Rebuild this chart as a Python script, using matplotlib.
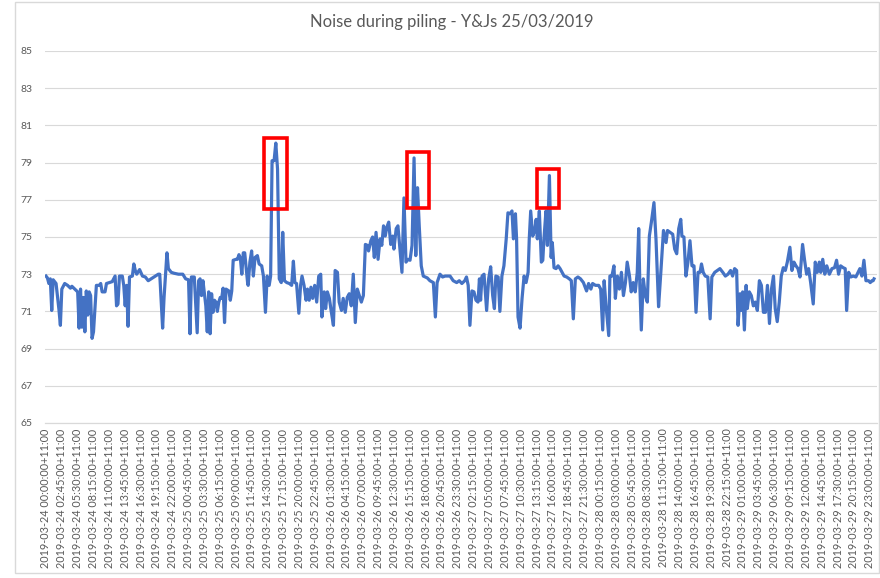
import matplotlib
matplotlib.use("Agg")
import matplotlib.pyplot as plt
from matplotlib.patches import Rectangle

title = "Noise during piling - Y&Js 25/03/2019"

# hours since 2019-03-24 00:00 (+11:00)
hours = [
    0, 0.25, 0.5, 0.75, 1.0, 1.25, 1.5, 1.75, 2.25, 2.5, 2.75, 3.25, 3.75, 4.25, 4.5, 5.0, 5.5, 5.75,
    6.0, 6.25, 6.5, 6.75, 7.0, 7.25, 7.5, 7.75, 8.0, 8.25, 8.75, 9.25, 9.5, 9.75, 10.25, 10.5, 11.0,
    11.5, 12.0, 12.25, 12.5, 12.75, 13.25, 13.5, 13.75, 14.0, 14.25, 14.5, 15.0, 15.25, 15.5, 15.75,
    16.25, 16.75, 17.25, 17.75, 18.25, 18.75, 19.5, 19.75, 20.25, 20.5, 21.0, 21.25, 21.75, 22.25,
    23.0, 23.75, 24.25, 24.75, 25.0, 25.25, 25.75, 26.25, 26.5, 26.75, 27.0, 27.25, 27.75, 28.0,
    28.25, 28.5, 28.75, 29.0, 29.25, 29.5, 29.75, 30.0, 30.25, 30.5, 30.75, 31.0, 31.25, 31.75, 32.0,
    32.25, 32.5, 33.0, 33.25, 33.5, 33.75, 34.0, 34.25, 34.5, 35.0,
    35.1, 35.4, 35.7, 36.0, 36.3, 36.7, 37.0, 37.45, 37.75, 38.1, 38.4, 38.75, 39.0, 39.25, 39.6,
    39.9, 40.2, 40.5, 40.85, 41.1, 41.4, 41.8, 42.25, 42.65, 42.95, 43.2, 43.5, 43.9, 44.2, 44.45,
    44.8, 45.15, 45.4, 45.7, 46.0, 46.3, 46.65, 47.0, 47.35, 47.7, 47.9, 48.3, 48.55, 48.85, 49.2,
    49.5, 49.9, 50.2, 50.6, 50.9, 51.3, 51.6, 51.95, 52.3, 52.65, 53.0, 53.35, 53.7, 54.05, 54.4,
    54.75, 55.1, 55.45, 55.8, 56.0, 56.4, 56.7, 57.0, 57.3, 57.65, 58.0, 58.3, 58.6, 58.9, 59.15,
    59.5, 59.85, 60.2, 60.4, 60.8, 61.1, 61.45, 61.8, 62.15, 62.5, 62.85, 63.2, 63.55, 63.9, 64.2,
    64.5, 64.8, 65.15, 65.5, 65.85, 66.2, 66.65, 67.25, 67.6, 67.9, 68.4, 68.85, 69.3, 69.85,
    70.15, 70.7, 71.3, 71.75, 72.2, 72.7, 73.0, 73.3, 73.6, 73.95, 74.3, 74.65, 75.0, 75.25, 75.45,
    75.7, 76.05, 76.5, 76.85, 77.2, 77.55, 77.85, 78.1, 78.5, 78.8, 79.15, 79.5, 79.9, 80.2, 80.55,
    80.9, 81.15, 81.5, 81.7, 81.95, 82.3, 82.65, 83.0, 83.35, 83.7, 83.9, 84.15, 84.5, 84.85, 85.1,
    85.3, 85.65, 86.0, 86.25, 86.45, 86.8, 87.05, 87.4, 87.7, 87.9, 88.2, 88.55, 88.9, 89.25, 89.6,
    89.95, 90.4, 90.85, 91.2, 91.55, 91.9, 92.35, 92.8, 93.3, 93.85, 94.2, 94.6, 94.9, 95.4, 95.95,
    96.3, 96.65, 96.9, 97.2, 97.7, 97.9, 98.25, 98.6, 98.85, 99.2, 99.55, 99.9, 100.25, 100.6,
    100.9, 101.3, 101.6, 101.95, 102.3, 102.65, 102.9, 103.1, 103.35, 103.7, 104.05, 104.4, 104.75,
    105.1, 105.55, 105.9, 106.35, 106.7,
    107.2, 107.65, 107.9, 108.35, 108.8, 109.15, 109.5, 109.85, 110.2, 110.4, 110.75, 111.1,
    111.45, 111.8, 112.15, 112.5, 112.85, 113.2, 113.55, 113.8, 114.1, 114.45, 114.9, 115.3, 115.6,
    116.1, 116.55, 117.0, 117.5, 117.95, 118.4, 118.85, 119.2, 119.55, 119.9, 120.15, 120.5, 120.7,
    120.95, 121.25, 121.55, 121.75, 122.1, 122.45, 122.8, 123.15, 123.5, 123.85, 124.2, 124.55,
    124.9, 125.25, 125.6, 125.95, 126.3, 126.6, 126.95, 127.3, 127.65, 128.0, 128.35, 128.7, 129.15,
    129.5, 129.85, 130.2, 130.55, 130.9, 131.35, 131.7, 132.05, 132.4, 132.75, 133.2, 133.55, 133.9,
    134.25, 134.5, 134.85, 135.2, 135.55, 136.0, 136.45, 136.9, 137.25, 137.6, 137.95, 138.4,
    138.75, 139.0, 139.35, 139.7, 140.15, 140.6, 141.0, 141.3, 141.65, 142.0, 142.35, 142.8, 143.1,
    143.4, 143.6, 143.75,
]

noise_db = [
    72.9, 72.8, 72.5, 72.75, 71.05, 72.7, 72.6, 72.5, 71.1, 70.25, 72.2, 72.5, 72.4, 72.25, 72.35, 72.2, 72.05, 70.1,
    72.2, 70.15, 71.75, 69.9, 72.1, 70.8, 72.05, 71.85, 69.55, 69.9, 72.4, 72.4, 72.5, 72.05, 72.05, 72.5, 72.55,
    72.6, 72.9, 71.3, 71.4, 72.9, 72.9, 72.4, 71.3, 72.4, 70.2, 72.85, 72.9, 73.55, 73.2, 73.0,
    73.25, 72.9, 72.85, 72.65, 72.75, 72.85, 73.0, 73.0, 70.1, 71.75, 74.15, 73.3, 73.1, 73.05,
    73.0, 73.0, 72.75, 72.7, 69.8, 72.85, 72.85, 69.85, 72.65, 72.75, 71.85, 72.65, 71.3, 69.9,
    72.05, 69.8, 71.95, 70.95, 71.6, 71.5, 71.0, 71.5, 71.75, 71.7, 72.25, 70.4, 72.2, 72.1, 71.6,
    72.1, 73.75, 73.8, 73.8, 74.05, 73.85, 73.0, 74.15, 74.15, 72.55,
    72.4, 73.65, 74.25, 72.9, 73.9, 74.0, 73.55, 73.45, 72.9, 70.95, 72.9, 72.4, 72.9, 79.1, 79.1,
    80.05, 78.65, 72.75, 72.55, 75.25, 72.65, 72.55, 72.5, 72.4, 73.7, 72.55, 72.5, 70.9, 72.4, 72.9,
    72.4, 71.6, 72.2, 71.6, 72.3, 71.7, 72.4, 71.5, 72.9, 73.0, 70.7, 72.05, 71.15, 72.05, 71.7,
    71.05, 70.25, 73.2, 73.1, 71.5, 71.05, 71.7, 70.95, 71.75, 71.95, 71.3, 73.0, 70.4, 72.2, 71.85,
    71.5, 71.85, 74.6, 74.55, 74.25, 74.8, 75.0, 73.9, 75.25, 73.8, 74.9, 74.55, 75.6, 75.05, 75.5,
    75.8, 74.6, 75.05, 74.35, 75.45, 75.6, 74.35, 73.1, 77.1, 73.65, 73.8, 73.75, 74.55, 79.25, 74.0,
    77.65, 75.6, 73.45, 72.9, 72.85, 72.8, 72.65, 72.55, 70.7, 72.55, 73.0, 72.85, 72.9, 72.9,
    72.9, 72.65, 72.55, 72.65, 72.5, 72.65, 72.85, 72.4, 70.25, 72.1, 72.05, 71.6, 71.5, 72.75, 71.6,
    72.9, 73.0, 71.05, 72.75, 73.4, 71.85, 71.15, 72.9, 72.85, 71.0, 72.9, 73.45, 74.9, 76.3, 76.25,
    76.4, 74.9, 76.25, 74.9, 70.7, 70.1, 71.7, 72.9, 72.55, 73.1, 74.9, 76.4, 75.05, 75.35, 75.95,
    74.9, 76.4, 73.65, 73.75, 74.9, 76.4, 74.55, 78.3, 73.9, 74.7, 73.35, 73.3, 73.45, 73.3, 73.1,
    72.9, 72.85, 72.75, 72.65, 70.6, 72.75, 72.85, 72.75, 72.55, 72.1, 72.5, 72.2, 72.5, 72.4, 72.4,
    72.2, 70.0, 72.65, 71.4, 69.7, 72.9, 72.9, 73.45, 71.7, 72.9, 72.2, 73.1, 71.85, 72.55,
    73.65, 72.9, 72.05, 72.55, 72.05, 73.1, 75.45, 72.4, 70.0, 72.75, 71.85, 71.5, 75.05,
    75.8, 76.85, 74.9, 71.25, 72.9,
    75.35, 74.7, 75.35, 75.25, 75.15, 74.35, 74.1, 75.45, 75.95, 75.05, 75.0, 72.9,
    73.65, 74.8, 73.45, 73.45, 70.95, 73.1, 73.1, 73.55, 73.1, 72.9, 72.85, 70.6, 72.85,
    73.1, 73.2, 73.3, 73.1, 72.9, 73.0, 73.2, 72.9, 73.3, 73.2, 70.25, 71.95, 71.05,
    72.05, 70.0, 72.4, 71.15, 72.05, 71.85, 71.3, 71.5, 71.05, 72.65, 72.4, 70.95,
    70.95, 72.4, 70.35, 72.2, 72.9, 71.15, 70.45, 71.5, 72.9, 73.35, 73.2, 73.65, 74.45,
    73.2, 73.65, 73.45, 73.3, 72.85, 74.6, 73.75, 73.0, 73.3, 72.55, 71.4, 73.65, 73.1,
    73.65, 73.1, 73.8, 73.0, 73.45, 73.0, 73.3, 73.35, 73.75, 73.0, 73.45, 73.35,
    73.3, 71.05, 73.1, 72.85, 72.9, 72.85, 73.1, 73.3, 72.9, 73.75, 72.65, 72.65, 72.55,
    72.65, 72.65, 72.75,
]

tick_hours = [i * 2.75 for i in range(53)]
tick_labels = [
    "2019-03-24 00:00:00+11:00", "2019-03-24 02:45:00+11:00", "2019-03-24 05:30:00+11:00",
    "2019-03-24 08:15:00+11:00", "2019-03-24 11:00:00+11:00", "2019-03-24 13:45:00+11:00",
    "2019-03-24 16:30:00+11:00", "2019-03-24 19:15:00+11:00", "2019-03-24 22:00:00+11:00",
    "2019-03-25 00:45:00+11:00", "2019-03-25 03:30:00+11:00", "2019-03-25 06:15:00+11:00",
    "2019-03-25 09:00:00+11:00", "2019-03-25 11:45:00+11:00", "2019-03-25 14:30:00+11:00",
    "2019-03-25 17:15:00+11:00", "2019-03-25 20:00:00+11:00", "2019-03-25 22:45:00+11:00",
    "2019-03-26 01:30:00+11:00", "2019-03-26 04:15:00+11:00", "2019-03-26 07:00:00+11:00",
    "2019-03-26 09:45:00+11:00", "2019-03-26 12:30:00+11:00", "2019-03-26 15:15:00+11:00",
    "2019-03-26 18:00:00+11:00", "2019-03-26 20:45:00+11:00", "2019-03-26 23:30:00+11:00",
    "2019-03-27 02:15:00+11:00", "2019-03-27 05:00:00+11:00", "2019-03-27 07:45:00+11:00",
    "2019-03-27 10:30:00+11:00", "2019-03-27 13:15:00+11:00", "2019-03-27 16:00:00+11:00",
    "2019-03-27 18:45:00+11:00", "2019-03-27 21:30:00+11:00",
    "2019-03-28 00:15:00+11:00", "2019-03-28 03:00:00+11:00", "2019-03-28 05:45:00+11:00",
    "2019-03-28 08:30:00+11:00", "2019-03-28 11:15:00+11:00", "2019-03-28 14:00:00+11:00",
    "2019-03-28 16:45:00+11:00", "2019-03-28 19:30:00+11:00", "2019-03-28 22:15:00+11:00",
    "2019-03-29 01:00:00+11:00", "2019-03-29 03:45:00+11:00", "2019-03-29 06:30:00+11:00",
    "2019-03-29 09:15:00+11:00", "2019-03-29 12:00:00+11:00", "2019-03-29 14:45:00+11:00",
    "2019-03-29 17:30:00+11:00", "2019-03-29 20:15:00+11:00", "2019-03-29 23:00:00+11:00",
]
y_ticks = [65, 67, 69, 71, 73, 75, 77, 79, 81, 83, 85]

# highlighted peaks: (start hour, end hour, low dB, high dB)
highlight_boxes = [
    (37.85, 41.85, 76.5, 80.3),
    (62.7, 66.5, 76.55, 79.55),
    (85.25, 89.05, 76.55, 78.65),
]

W, H = 880, 578
fig = plt.figure(figsize=(W / 100, H / 100), dpi=100)
fig.patch.set_facecolor("white")
ax = fig.add_axes([45 / W, 1 - 423 / H, (877 - 45) / W, (423 - 51) / H])

grey = "#595959"
ax.plot(hours, noise_db, color="#4472C4", lw=2.3, solid_joinstyle="round", zorder=3)

for (h0, h1, lo, hi) in highlight_boxes:
    ax.add_patch(Rectangle((h0, lo), h1 - h0, hi - lo, fill=False,
                           edgecolor="#FF0000", lw=2.6, zorder=4))

ax.set_ylim(65, 85)
ax.set_xlim(-0.17, 144.27)
ax.set_yticks(y_ticks)
ax.set_yticklabels([str(v) for v in y_ticks], fontsize=7.5, color=grey, family="Lato")
ax.set_xticks(tick_hours)
ax.set_xticklabels(tick_labels, rotation=90, fontsize=7.8, color=grey, family="Lato",
                   va="top", ha="center")
ax.tick_params(axis="both", length=0)
ax.tick_params(axis="y", pad=9)
ax.tick_params(axis="x", pad=4)
ax.grid(axis="y", color="#d9d9d9", lw=0.8, zorder=0)
ax.grid(axis="x", visible=False)
for s in ax.spines.values():
    s.set_visible(False)
ax.axhline(65, color="#d9d9d9", lw=0.9, zorder=1, clip_on=False)

fig.text(452 / W, 1 - 22 / H, title, ha="center", va="center", fontsize=12,
         color=grey, family="Lato")

fig.patches.append(Rectangle((15 / W, 1 - 573 / H), (879 - 15) / W, (573 - 2) / H,
                             transform=fig.transFigure, fill=False,
                             edgecolor="#d9d9d9", lw=1))

fig.savefig("out.png", dpi=100, facecolor="white")
